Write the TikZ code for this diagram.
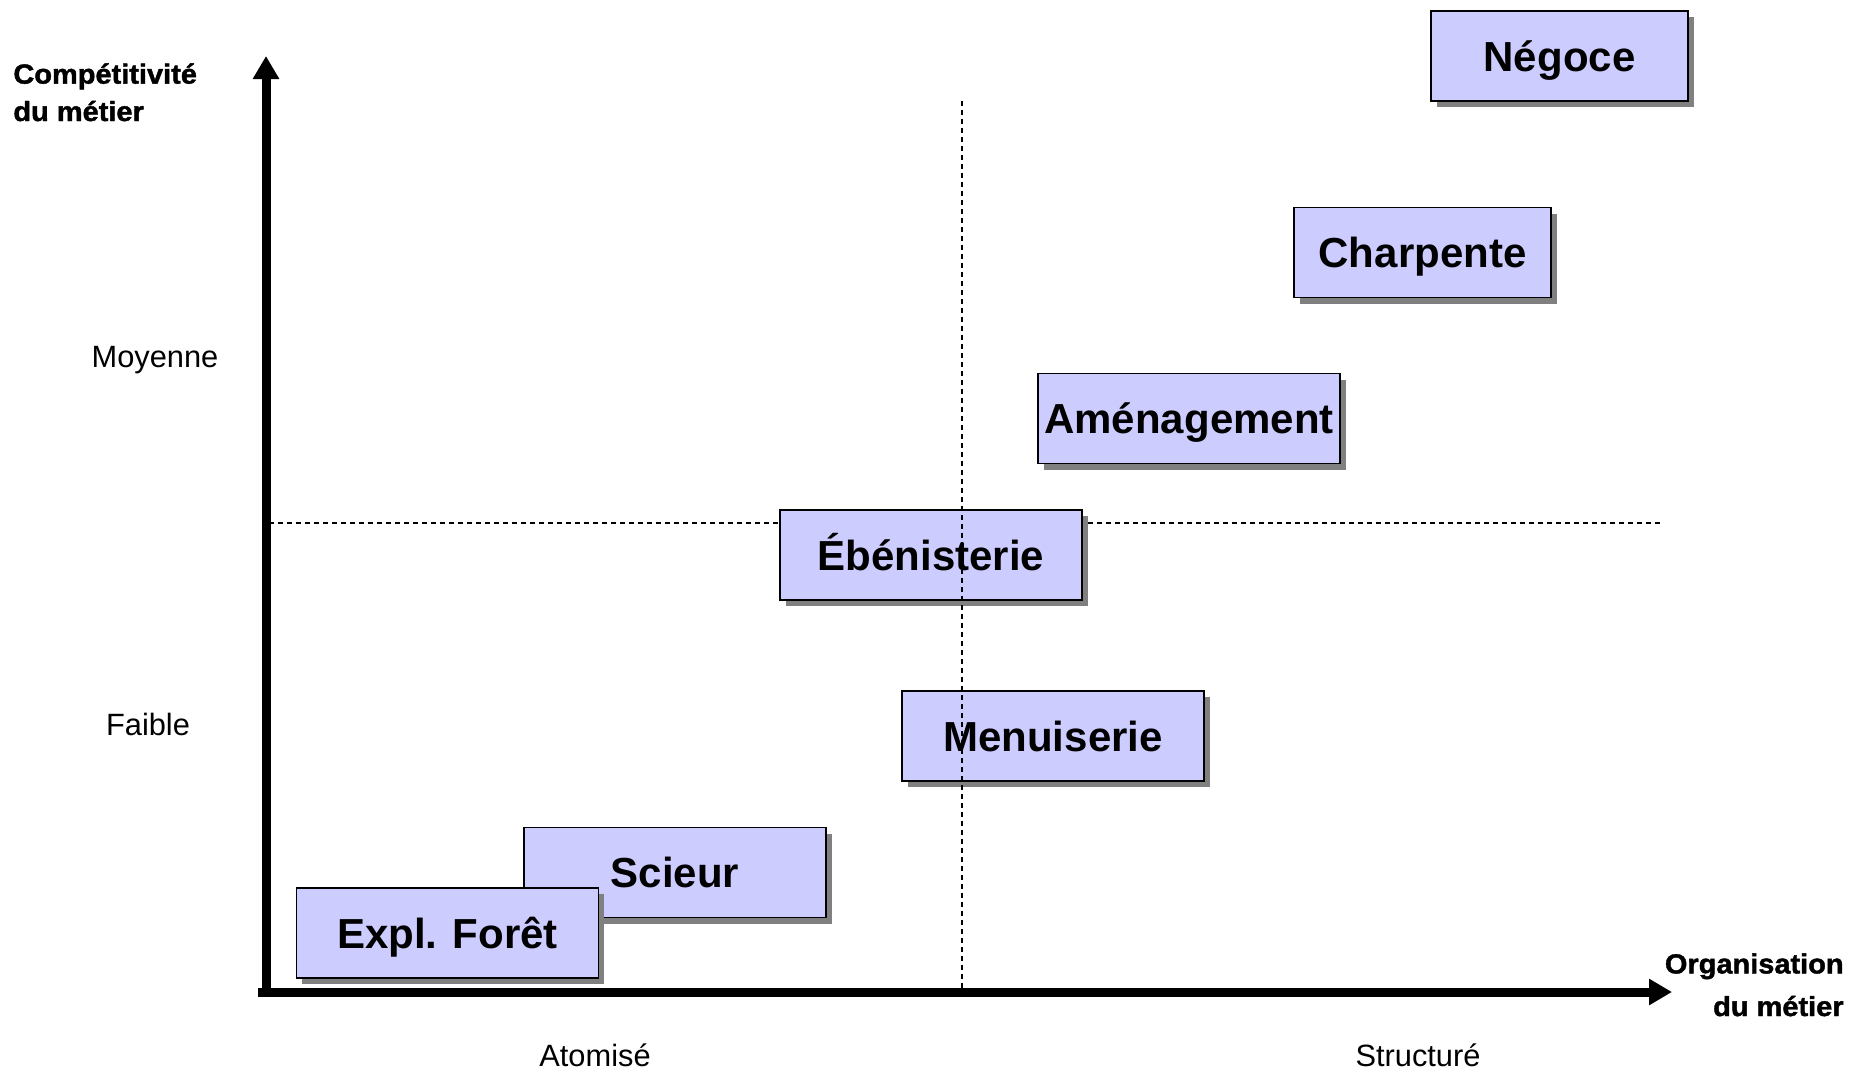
\documentclass[tikz,border=0pt]{standalone}
\usepackage{fontspec}
\setmainfont{Liberation Sans}
\newfontfamily\axisfont[FakeStretch=1.05, FakeBold=1.5]{Liberation Sans}
\usetikzlibrary{arrows.meta, positioning, shadows}
\definecolor{boxfill}{HTML}{CCCCFF}
\definecolor{shadowgray}{HTML}{808080}

\begin{document}
\begin{tikzpicture}[x=0.5pt, y=-0.5pt, >={Triangle[length=11.5pt, width=12.5pt]},
    box/.style={rectangle, draw, line width=0.8pt, fill=boxfill, minimum width=151pt, minimum height=45pt,
      inner sep=0pt, text height=15pt, text depth=0pt, font=\fontsize{21}{21}\selectfont\bfseries,
      drop shadow={shadow xshift=2.8pt, shadow yshift=-3pt, fill=shadowgray, opacity=1}},
    smallbox/.style={box, minimum width=128.5pt},
    axislabel/.style={inner sep=0pt, font=\axisfont\bfseries\fontsize{13.8}{18.7}\selectfont},
    tick/.style={inner sep=0pt, anchor=base, font=\fontsize{15.4}{18}\selectfont},
    guide/.style={line width=0.75pt, dash pattern=on 2.5pt off 2pt},
    axis/.style={line width=4.5pt, ->}]
  \useasboundingbox (0,0) rectangle (1850,1072);

  % axes and quadrant guides
  \coordinate (x0) at (258,992);
  \coordinate (xtip) at (1672,992);
  \coordinate (y0) at (266,996);
  \coordinate (ytip) at (266,56);
  \coordinate (h0) at (269,523);
  \coordinate (h1) at (1660,523);
  \coordinate (v0) at (962,101);
  \coordinate (v1) at (962,988);

  % base anchor sits on the last line
  \node[axislabel, anchor=base west, align=left] (ylab) at (13,121) {Compétitivité\\du métier};
  \node[axislabel, anchor=base east, align=right,
    font=\axisfont\bfseries\fontsize{13.8}{21.3}\selectfont] (xlab) at (1844,1016) {Organisation\\du métier};

  \node[tick] (moy) at (155,367) {Moyenne};
  \node[tick] (faib) at (148,735) {Faible};
  \node[tick] (atom) at (595,1066) {Atomisé};
  \node[tick] (struct) at (1418,1066) {Structuré};

  \draw[guide] (h0) -- (h1);

  \node[smallbox] (N) at (1559.5,56) {Négoce};
  \node[smallbox] (C) at (1422.5,252.5) {Charpente};
  \node[box] (A) at (1189,418.5) {Aménagement};
  \node[box] (E) at (931,555) {Ébénisterie};
  \node[box] (M) at (1053,736) {Menuiserie};
  \node[box] (S) at (675,872.5) {Scieur};
  \node[box] (X) at (447.5,933) {Expl. Forêt};

  \draw[guide] (v0) -- (v1);
  \draw[axis] (x0) -- (xtip);
  \draw[axis] (y0) -- (ytip);
\end{tikzpicture}
\end{document}
